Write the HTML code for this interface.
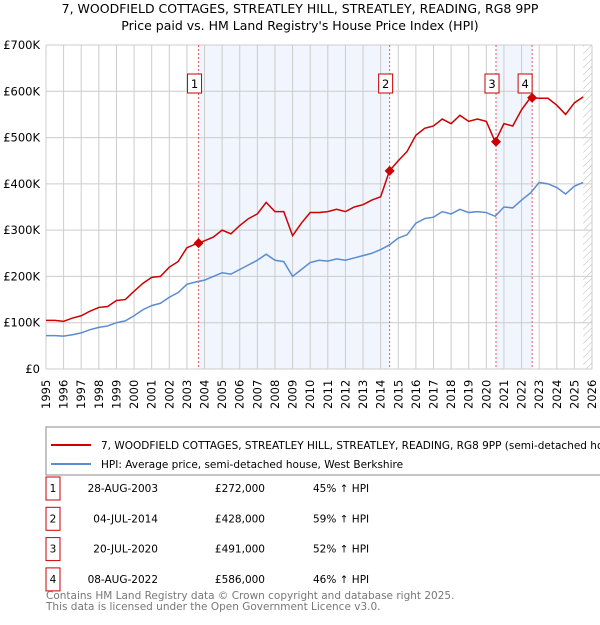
<!DOCTYPE html>
<html><head><meta charset="utf-8"><style>
body{margin:0;background:#fff;font-family:"Liberation Sans","DejaVu Sans",sans-serif;}
svg text{font-family:"DejaVu Sans","Liberation Sans",sans-serif;}
</style></head><body>
<svg id="c" width="600" height="620" viewBox="0 0 600 620" xmlns="http://www.w3.org/2000/svg">
<defs><pattern id="hatch" width="5" height="5" patternUnits="userSpaceOnUse" patternTransform="rotate(45)"><line x1="0" y1="0" x2="0" y2="5" stroke="#bbb" stroke-width="1"/></pattern></defs>
<text x="300" y="13" text-anchor="middle" font-size="12.5" fill="#000">7, WOODFIELD COTTAGES, STREATLEY HILL, STREATLEY, READING, RG8 9PP</text>
<text x="300" y="30" text-anchor="middle" font-size="12.5" fill="#000">Price paid vs. HM Land Registry's House Price Index (HPI)</text>
<g id="plot"></g>
<rect x="46" y="427" width="560" height="48" fill="#fff" stroke="#888"/>
<line x1="51" y1="445" x2="91" y2="445" stroke="#cc0000" stroke-width="2"/>
<text x="101" y="449" font-size="10.5">7, WOODFIELD COTTAGES, STREATLEY HILL, STREATLEY, READING, RG8 9PP (semi-detached house)</text>
<line x1="51" y1="464" x2="91" y2="464" stroke="#5b8bd0" stroke-width="2"/>
<text x="101" y="468" font-size="10.5">HPI: Average price, semi-detached house, West Berkshire</text>
<g id="table" font-size="10.5"></g>
<text x="46" y="599" font-size="10.5" fill="#777">Contains HM Land Registry data © Crown copyright and database right 2025.</text>
<text x="46" y="610" font-size="10.5" fill="#777">This data is licensed under the Open Government Licence v3.0.</text>
</svg>
<script>
const hpiYears=[1995,1995.5,1996,1996.5,1997,1997.5,1998,1998.5,1999,1999.5,2000,2000.5,2001,2001.5,2002,2002.5,2003,2003.5,2004,2004.5,2005,2005.5,2006,2006.5,2007,2007.5,2008,2008.5,2009,2009.5,2010,2010.5,2011,2011.5,2012,2012.5,2013,2013.5,2014,2014.5,2015,2015.5,2016,2016.5,2017,2017.5,2018,2018.5,2019,2019.5,2020,2020.5,2021,2021.5,2022,2022.5,2023,2023.5,2024,2024.5,2025,2025.5];
const hpiValues=[72,72,71,74,78,85,90,93,100,104,115,128,137,142,155,165,183,188,192,200,208,205,215,225,235,248,235,232,200,215,230,235,233,238,235,240,245,250,258,268,283,290,315,325,328,340,335,345,338,340,338,330,350,348,365,380,403,400,392,378,395,403];
const propValues=[105,105,103,110,115,125,133,135,148,150,168,185,198,200,220,232,262,270,277,285,300,292,310,325,335,360,340,340,288,315,338,338,340,345,340,350,355,365,372,428,450,470,505,520,525,540,530,548,535,540,535,491,530,525,560,586,585,585,570,550,575,588];
const saleLabels=["1","2","3","4"];
const saleYears=[2003.66,2014.51,2020.55,2022.6];
const salePrices=[272,428,491,586];
const saleDates=["28-AUG-2003","04-JUL-2014","20-JUL-2020","08-AUG-2022"];
const salePriceText=["£272,000","£428,000","£491,000","£586,000"];
const saleHpiText=["45% ↑ HPI","59% ↑ HPI","52% ↑ HPI","46% ↑ HPI"];
const yTicks=[0,100,200,300,400,500,600,700];
const yTickLabels=["£0","£100K","£200K","£300K","£400K","£500K","£600K","£700K"];
const xTicks=[1995,1996,1997,1998,1999,2000,2001,2002,2003,2004,2005,2006,2007,2008,2009,2010,2011,2012,2013,2014,2015,2016,2017,2018,2019,2020,2021,2022,2023,2024,2025,2026];

const NS="http://www.w3.org/2000/svg";
const X0=46,X1=592,Y0=369,Y1=45;
const x=v=>X0+(v-1995)/(2026-1995)*(X1-X0);
const y=v=>Y0-v/700*(Y0-Y1);
const plot=document.getElementById('plot');
function mk(t,a,p){const e=document.createElementNS(NS,t);for(const k in a)e.setAttribute(k,a[k]);(p||plot).appendChild(e);return e;}
for(let i=0;i<2;i++){
 const r=mk('rect',{x:x(saleYears[i*2]),y:Y1,width:x(saleYears[i*2+1])-x(saleYears[i*2]),height:Y0-Y1,fill:'#eef3fc',opacity:0.8});
 
 
}
const hr=mk('rect',{x:x(2025.5),y:Y1,width:X1-x(2025.5),height:Y0-Y1,fill:'url(#hatch)'});


xTicks.forEach(t=>{mk('line',{x1:x(t),x2:x(t),y1:Y1,y2:Y0,stroke:'#ccc','stroke-width':1});
 const tx=mk('text',{x:0,y:0,'font-size':11.5,transform:`translate(${x(t)+4},${Y0+40}) rotate(-90)`});tx.textContent=t;
 
 
});
yTicks.forEach((t,i)=>{mk('line',{x1:X0,x2:X1,y1:y(t),y2:y(t),stroke:'#ccc','stroke-width':1});
 const tx=mk('text',{x:X0-6,y:y(t)+4,'font-size':11.5,'text-anchor':'end'});tx.textContent=yTickLabels[i];
 
 
});
saleYears.forEach((s,i)=>{mk('line',{x1:x(s),x2:x(s),y1:Y1,y2:Y0,stroke:'#e06060','stroke-width':1,'stroke-dasharray':'2,2'});
 const g=mk('g',{});
 
 
 mk('rect',{x:x(s)-11+(i==3?-3:0),y:74,width:14,height:19,fill:'#fff',stroke:'#cc0000'},g);
 const t=mk('text',{x:x(s)-4+(i==3?-3:0),y:88,'font-size':11.5,'text-anchor':'middle'},g);t.textContent=saleLabels[i];
});
const pts=a=>a.map((v,i)=>x(hpiYears[i])+','+y(v)).join(' ');
const hl=mk('polyline',{points:pts(hpiValues),fill:'none',stroke:'#5b8bd0','stroke-width':1.5});


const pl=mk('polyline',{points:pts(propValues),fill:'none',stroke:'#cc0000','stroke-width':1.5});


saleYears.forEach((s,i)=>{const d=mk('path',{d:`M${x(s)},${y(salePrices[i])-5}l5,5l-5,5l-5,-5z`,fill:'#cc0000'});
 
 
});
mk('line',{x1:X0,x2:X1,y1:Y0,y2:Y0,stroke:'#ccc'});
const tb=document.getElementById('table');
saleLabels.forEach((l,i)=>{const yy=488+i*30.3;
 const g=mk('g',{},tb);
 
 
 mk('rect',{x:46,y:yy-11,width:14,height:23,fill:'#fff',stroke:'#cc0000'},g);
 let t=mk('text',{x:53,y:yy+4,'text-anchor':'middle'},g);t.textContent=l;
 t=mk('text',{x:158,y:yy+4,'text-anchor':'end'},g);t.textContent=saleDates[i];
 t=mk('text',{x:265,y:yy+4,'text-anchor':'end'},g);t.textContent=salePriceText[i];
 t=mk('text',{x:313,y:yy+4},g);t.textContent=saleHpiText[i];
});
</script>
</body></html>
